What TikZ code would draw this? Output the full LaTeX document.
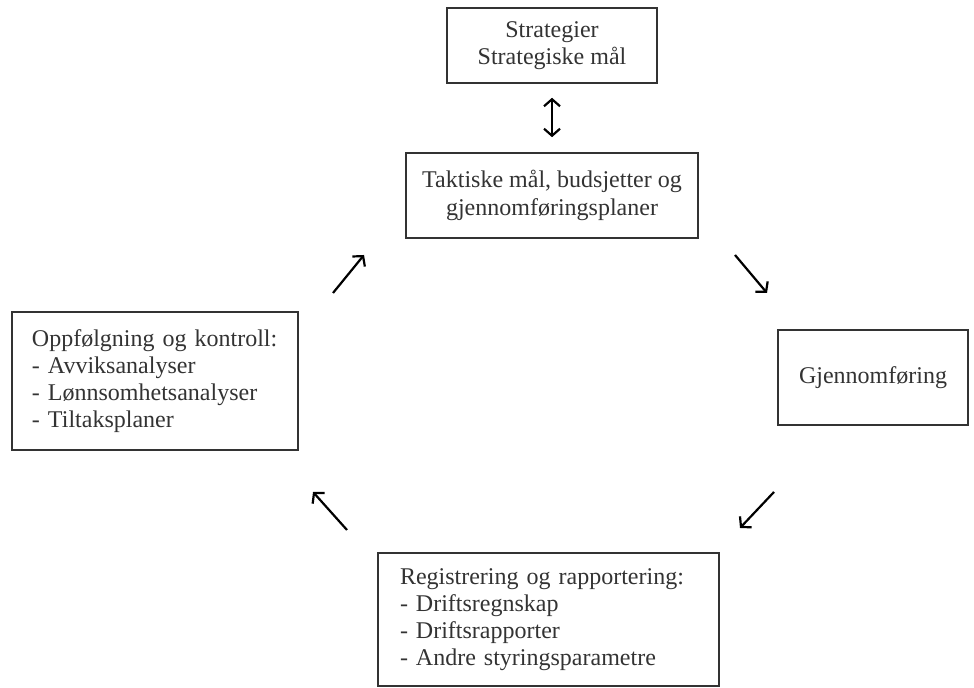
\documentclass[tikz,border=0pt]{standalone}
\usepackage{fontspec}
\setmainfont{Liberation Serif}
\usetikzlibrary{positioning, arrows.meta}

\begin{document}
\begin{tikzpicture}[x=0.5pt, y=0.5pt, font=\fontsize{12}{13.6}\selectfont,
  boks/.style={rectangle, draw=black!80, line width=0.8pt, inner sep=0pt, text=black!80},
  pil/.style={line width=1.1pt, -{Straight Barb[length=3.5pt,width=8pt]}},
  dobbelpil/.style={line width=1.1pt, {Straight Barb[length=3.5pt,width=8pt]}-{Straight Barb[length=3.5pt,width=8pt]}}]

\useasboundingbox (0,0) rectangle (974,688);

%%% nodes and boxes

%%% STRATEGI
\node [boks, minimum width=105pt, minimum height=37.5pt, align=center] (strategi-box) at (552,642.5) {Strategier\\ Strategiske mål};

%%% TAKTISK
\node [boks, minimum width=146pt, minimum height=42.5pt, align=center] (taktisk-box) at (552,492.5) {Taktiske mål, budsjetter og\\ gjennomføringsplaner};

%%% GJENNOMFØRING
\node [boks, minimum width=95pt, minimum height=47.5pt] (gjennom-box) at (873,310.5) {Gjennomføring};

%%% REGISTRERING
\node [boks, minimum width=170.5pt, minimum height=66.5pt, inner xsep=11pt, text width=148.5pt, align=left] (registr-box) at (548.5,68.5) {Registrering og rapportering:\\ - Driftsregnskap\\ - Driftsrapporter\\ - Andre styringsparametre};

%%% OPPFØLGNING
\node [boks, minimum width=143pt, minimum height=69pt, inner xsep=10pt, text width=123pt, align=left] (oppf-box) at (155,307) {Oppfølgning og kontroll:\\ - Avviksanalyser\\ - Lønnsomhetsanalyser\\ - Tiltaksplaner};

%%% arrow ends
\coordinate (pil1-a) at (735,433);
\coordinate (pil1-b) at (767,395);
\coordinate (pil2-a) at (774,196);
\coordinate (pil2-b) at (740,160);
\coordinate (pil3-a) at (347,158);
\coordinate (pil3-b) at (313,196);
\coordinate (pil4-a) at (333,395);
\coordinate (pil4-b) at (364,433);

%%% connections, arrows
\draw [dobbelpil, shorten <=7pt, shorten >=7.5pt] (strategi-box) -- (taktisk-box);
\draw [pil] (pil1-a) -- (pil1-b);
\draw [pil] (pil2-a) -- (pil2-b);
\draw [pil] (pil3-a) -- (pil3-b);
\draw [pil] (pil4-a) -- (pil4-b);

\end{tikzpicture}
\end{document}
